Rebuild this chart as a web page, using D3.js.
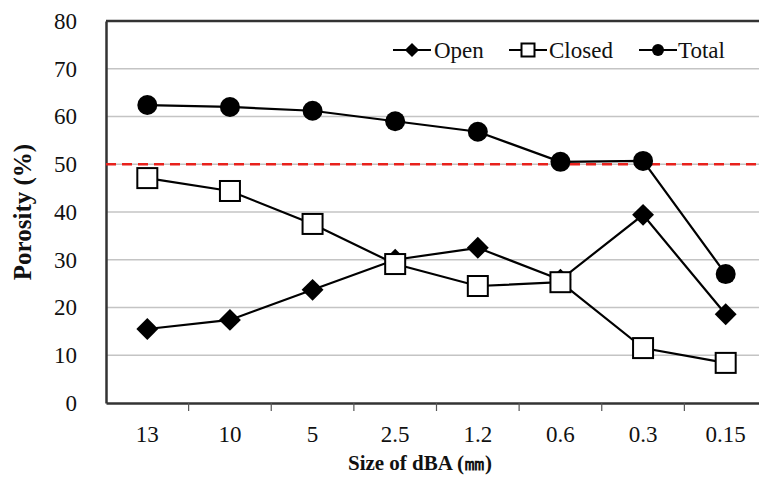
<!DOCTYPE html>
<html><head><meta charset="utf-8">
<script src="https://cdn.jsdelivr.net/npm/d3@7"></script>
<style>body{margin:0;background:#fff}svg{display:block}</style>
</head><body><svg id="c" width="759" height="479"></svg>
<script>
const categories = ["13","10","5","2.5","1.2","0.6","0.3","0.15"];
const openVals   = [15.5,17.4,23.7,30.0,32.5,25.8,39.4,18.6];
const closedVals = [47.1,44.4,37.5,29.1,24.5,25.3,11.5,8.4];
const totalVals  = [62.4,62.0,61.2,59.0,56.8,50.5,50.7,27.0];
const yTicks = [0,10,20,30,40,50,60,70,80];
const refValue = 50;
const FONT = "'Liberation Serif', 'Times New Roman', serif";

const svg = d3.select("#c");
const m = {l:106, t:21, r:767, b:403};
const x = d3.scaleBand().domain(categories).range([m.l, m.r]);
const y = d3.scaleLinear().domain([0,80]).range([m.b, m.t]);
const cx = d => x(d) + x.bandwidth()/2;

// gridlines
svg.append("g").selectAll("line").data(yTicks.filter(v=>v>0 && v<80)).join("line")
  .attr("x1", m.l).attr("x2", m.r).attr("y1", d=>y(d)).attr("y2", d=>y(d))
  .attr("stroke", "#c4c4c4").attr("stroke-width", 1.5);

// top border
svg.append("line").attr("x1", m.l).attr("x2", m.r).attr("y1", y(80)).attr("y2", y(80))
  .attr("stroke", "#333").attr("stroke-width", 2.5);

// y axis
const ya = svg.append("g").attr("transform", `translate(${m.l},0)`)
  .call(d3.axisLeft(y).tickValues(yTicks).tickSize(0).tickPadding(29));
ya.attr("font-family", FONT).attr("font-size", 23);
ya.select(".domain").attr("stroke", "#333").attr("stroke-width", 2.5);
ya.selectAll(".tick text").style("font-size", "23px").style("font-family", FONT).attr("fill", "#111");

// x axis
const xa = svg.append("g").attr("transform", `translate(0,${m.b})`)
  .call(d3.axisBottom(x).tickSize(0).tickPadding(23));
xa.attr("font-family", FONT).attr("font-size", 23);
xa.select(".domain").attr("stroke", "#333").attr("stroke-width", 2.5);
xa.selectAll(".tick text").style("font-size", "23px").style("font-family", FONT).attr("fill", "#111");
// ticks at band boundaries
svg.append("g").selectAll("line").data(categories.slice(1)).join("line")
  .attr("x1", d=>x(d)).attr("x2", d=>x(d)).attr("y1", m.b).attr("y2", m.b+8)
  .attr("stroke", "#555").attr("stroke-width", 1.2);

// reference line
svg.append("line").attr("x1", m.l).attr("x2", m.r).attr("y1", y(refValue)).attr("y2", y(refValue))
  .attr("stroke", "#e8211c").attr("stroke-width", 2.5).attr("stroke-dasharray", "10,6");

const line = d3.line().x((d,i)=>cx(categories[i])).y(d=>y(d));
const series = [
  {name:"Open", vals:openVals, type:"diamond"},
  {name:"Closed", vals:closedVals, type:"square"},
  {name:"Total", vals:totalVals, type:"circle"}
];

function marker(g, type, px, py) {
  if (type === "circle") g.append("circle").attr("cx", px).attr("cy", py).attr("r", 10).attr("fill", "#000");
  else if (type === "square") g.append("rect").attr("x", px-10).attr("y", py-10).attr("width", 20).attr("height", 20)
      .attr("fill", "#fff").attr("stroke", "#000").attr("stroke-width", 2);
  else g.append("path").attr("transform", `translate(${px},${py}) rotate(45)`)
      .attr("d", d3.symbol().type(d3.symbolSquare).size(240)()).attr("fill", "#000");
}

series.forEach(s => {
  svg.append("path").datum(s.vals).attr("d", line).attr("fill", "none").attr("stroke", "#000").attr("stroke-width", 2.2);
});
series.forEach(s => {
  const g = svg.append("g");
  s.vals.forEach((v,i) => marker(g, s.type, cx(categories[i]), y(v)));
});

// legend
const legendPos = [{lx:393, tx:434}, {lx:509, tx:549}, {lx:639, tx:678}];
series.forEach((s,i) => {
  const g = svg.append("g");
  const p = legendPos[i];
  const ly = 50;
  g.append("line").attr("x1", p.lx).attr("x2", p.lx+38).attr("y1", ly).attr("y2", ly).attr("stroke","#000").attr("stroke-width",2);
  const mc = p.lx+19;
  if (s.type === "circle") g.append("circle").attr("cx", mc).attr("cy", ly).attr("r", 6).attr("fill","#000");
  else if (s.type === "square") g.append("rect").attr("x", mc-6.5).attr("y", ly-6.5).attr("width",13).attr("height",13).attr("fill","#fff").attr("stroke","#000").attr("stroke-width",2);
  else g.append("path").attr("transform", `translate(${mc},${ly}) rotate(45)`).attr("d", d3.symbol().type(d3.symbolSquare).size(100)()).attr("fill","#000");
  g.append("text").attr("x", p.tx).attr("y", ly+8).attr("font-size", 23).attr("fill","#111")
    .attr("font-family", FONT).text(s.name);
});

// axis titles
svg.append("text").attr("transform", `translate(31,${(m.t+m.b)/2}) rotate(-90)`).attr("text-anchor","middle")
  .attr("font-family", FONT).attr("font-size", 25).attr("font-weight","bold").attr("fill","#111").text("Porosity (%)");
svg.append("text").attr("x", 420).attr("y", 470).attr("text-anchor","middle")
  .attr("font-family", FONT).attr("font-size", 21).attr("font-weight","bold").attr("fill","#111").text("Size of dBA (㎜)");
</script></body></html>
